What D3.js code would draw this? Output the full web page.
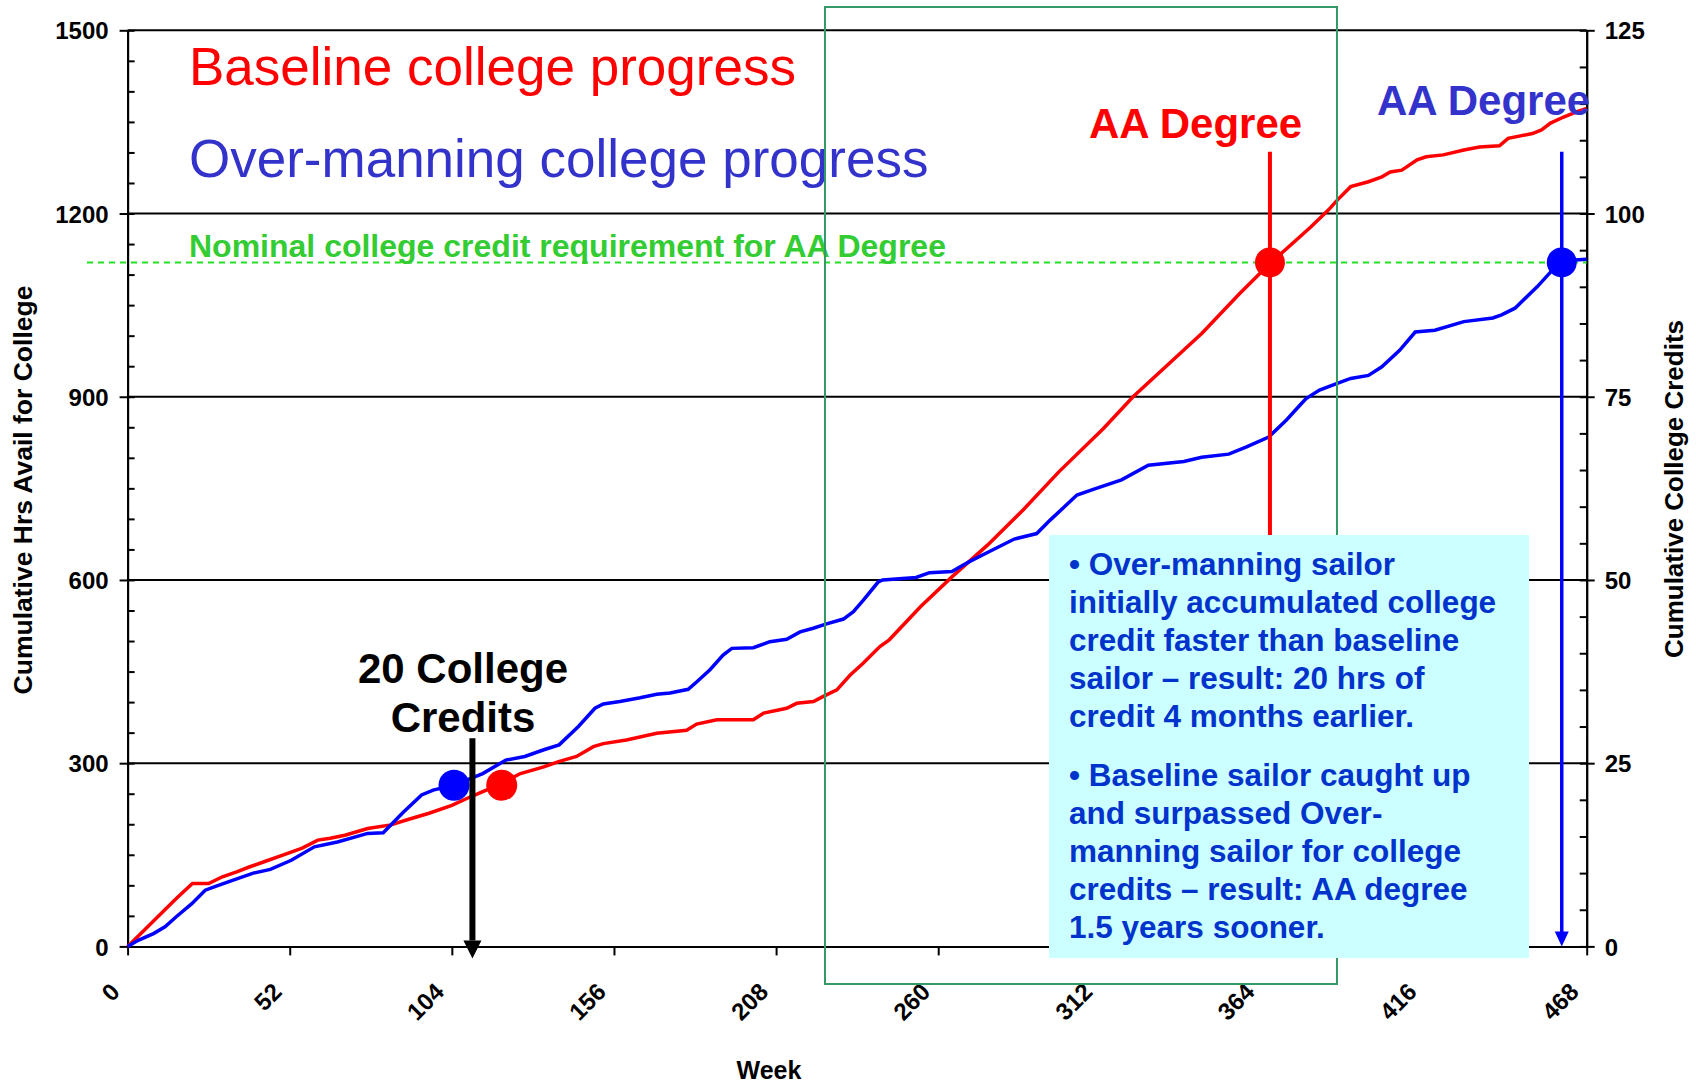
<!DOCTYPE html>
<html>
<head>
<meta charset="utf-8">
<script src="https://cdn.jsdelivr.net/npm/d3@7"></script>
<style>
  body { margin: 0; background: #fff; }
  svg { display: block; font-family: 'Liberation Sans', Arial, sans-serif; }
</style>
</head>
<body>
<div class="container"></div>
<script>
// baseline sailor (red)
const baseWeeks = [0, 5, 9.6, 15.7, 20.8, 26, 30.4, 35, 39, 44, 50, 56, 61, 65, 69.7, 77, 84.5, 89.4, 96.7, 104, 110, 116, 120, 126, 133.5, 138.5, 144, 149.4, 152.6, 160, 169.7, 179.3, 182.5, 189, 200.7, 204, 211.4, 214.6, 220, 223, 227.5, 231.7, 236, 241.3, 244.3, 254.3, 264.4, 275.8, 287.3, 298.7, 313, 322.5, 344.6, 356.7, 366.4, 379.5, 385.2, 388, 392.3, 398, 402.3, 405, 408.7, 413.6, 416.5, 422, 428.6, 433.6, 440, 442.8, 450.6, 453.5, 456.4, 460.6, 464.9, 468]
const baseHrs = [0, 25, 48, 79, 103, 103, 114, 122, 130, 139, 150, 161, 174, 177, 182, 193, 199, 207, 218, 231, 245, 258, 267, 283, 294, 303, 311, 327, 332, 338, 349, 354, 364, 371, 371, 382, 390, 398, 401, 409, 420, 444, 464, 491, 502, 556, 605, 657, 715, 777, 848, 900, 1004, 1069, 1118, 1178, 1206, 1222, 1244, 1252, 1260, 1268, 1271, 1288, 1293, 1296, 1304, 1309, 1311, 1323, 1331, 1337, 1348, 1358, 1367, 1372]

// over-manning sailor (blue)
const overWeeks = [0, 3.4, 8.3, 12, 15.7, 20.6, 24.9, 28, 34.1, 40.3, 45.8, 52.5, 59.9, 67.3, 77, 82, 88.1, 94.3, 98, 104.7, 113.9, 121.3, 127.4, 133.5, 138.4, 144.6, 149.9, 152.6, 157.9, 164.4, 169.7, 174, 179.8, 182.5, 186.8, 191, 193.8, 200.7, 206, 211.4, 215.7, 219.9, 224.2, 229.6, 232.8, 236, 240.8, 242.2, 252.9, 257.2, 264.4, 270, 275.8, 284.4, 291.6, 295.9, 304.5, 310.2, 318.8, 327.4, 338.8, 344.5, 353.2, 358.9, 366, 371.7, 376, 378, 382.3, 388, 392.3, 398, 402.3, 408, 413, 419.3, 428.6, 437.9, 440.7, 445, 452.1, 458.9, 464.2, 468]
const overHrs = [0, 10, 21, 32, 49, 70, 92, 98, 109, 120, 126, 141, 163, 171, 185, 186, 218, 248, 256, 264, 283, 305, 311, 322, 330, 360, 390, 397, 401, 407, 413, 415, 421, 433, 453, 477, 488, 489, 499, 503, 515, 521, 528, 536, 548, 567, 597, 600, 604, 612, 614, 630, 645, 667, 676, 698, 739, 749, 764, 788, 794, 801, 806, 818, 834, 862, 886, 897, 911, 922, 930, 935, 949, 976, 1006, 1009, 1023, 1029, 1034, 1045, 1080, 1118, 1124, 1125]

const weekTicks = [0, 52, 104, 156, 208, 260, 312, 364, 416, 468]
const hrsTicks = [0, 300, 600, 900, 1200, 1500]
const creditTicks = [0, 25, 50, 75, 100, 125]

const aaRequirement = 1120
const twentyCreditHrs = 264
const twentyCreditWeeks = { over: 104.7, base: 120 }
const aaWeeks = { base: 366.4, over: 460 }
const creditsArrowWeek = 110.6
const markerTopHrs = 1301

const note1 = ['• Over-manning sailor', 'initially accumulated college', 'credit faster than baseline', 'sailor – result: 20 hrs of', 'credit 4 months earlier.']
const note2 = ['• Baseline sailor caught up', 'and surpassed Over-', 'manning sailor for college', 'credits – result: AA degree', '1.5 years sooner.']

const w = 1696
const h = 1084
const padL = 127.6, padR = 1586.7, padT = 30.3, padB = 946.4

const svg = d3.select('.container')
  .append('svg')
  .attr('width', w)
  .attr('height', h)

const x = d3.scaleLinear().domain([0, 468]).range([padL, padR])
const y = d3.scaleLinear().domain([0, 1500]).range([padB, padT])
const yR = d3.scaleLinear().domain([0, 125]).range([padB, padT])

// gridlines
svg.append('g').selectAll('line')
  .data(hrsTicks.slice(1))
  .enter().append('line')
  .attr('x1', padL).attr('x2', padR)
  .attr('y1', d => y(d)).attr('y2', d => y(d))
  .attr('stroke', '#000').attr('stroke-width', 2)

const styleAxis = g => {
  g.selectAll('path').attr('stroke', '#000').attr('stroke-width', 2)
  g.selectAll('line').attr('stroke', '#000').attr('stroke-width', 2)
  g.selectAll('text').attr('font-size', 24).attr('font-weight', 'bold').attr('fill', '#000')
    .attr('font-family', "'Liberation Sans', Arial, sans-serif")
}

// left axis
svg.append('g')
  .attr('transform', `translate(${padL},0)`)
  .call(d3.axisRight(y).tickValues(d3.range(0, 1501, 50)).tickSize(7).tickSizeOuter(0).tickFormat(''))
  .call(styleAxis)
svg.append('g')
  .attr('transform', `translate(${padL},0)`)
  .call(d3.axisLeft(y).tickValues(hrsTicks).tickSize(8).tickSizeOuter(0).tickPadding(11).tickFormat(d3.format('d')))
  .call(styleAxis)
  .selectAll('text').attr('dy', '0.36em')

// right axis
svg.append('g')
  .attr('transform', `translate(${padR},0)`)
  .call(d3.axisLeft(yR).tickValues(d3.range(0, 126, 5)).tickSize(7).tickSizeOuter(0).tickFormat(''))
  .call(styleAxis)
svg.append('g')
  .attr('transform', `translate(${padR},0)`)
  .call(d3.axisRight(yR).tickValues(creditTicks).tickSize(8).tickSizeOuter(0).tickPadding(10).tickFormat(d3.format('d')))
  .call(styleAxis)
  .selectAll('text').attr('dy', '0.36em')

// x axis
const xg = svg.append('g')
  .attr('transform', `translate(0,${padB})`)
  .call(d3.axisBottom(x).tickValues(weekTicks).tickSize(9).tickSizeOuter(0))
  .call(styleAxis)
xg.selectAll('text')
  .attr('x', 0).attr('y', 0).attr('dy', 0)
  .attr('text-anchor', 'end')
  .attr('transform', 'translate(-7,47) rotate(-45)')

// axis titles
svg.append('text')
  .text('Cumulative Hrs Avail for College')
  .attr('transform', 'translate(32,490) rotate(-90)')
  .attr('text-anchor', 'middle')
  .attr('font-size', 26.5).attr('font-weight', 'bold')
svg.append('text')
  .text('Cumulative College Credits')
  .attr('transform', 'translate(1683,489) rotate(-90)')
  .attr('text-anchor', 'middle')
  .attr('font-size', 26).attr('font-weight', 'bold')
svg.append('text')
  .text('Week')
  .attr('x', 769).attr('y', 1079)
  .attr('text-anchor', 'middle')
  .attr('font-size', 25).attr('font-weight', 'bold')

// requirement line
svg.append('line')
  .attr('x1', 87).attr('x2', padR)
  .attr('y1', y(aaRequirement)).attr('y2', y(aaRequirement))
  .attr('stroke', '#22e022').attr('stroke-width', 2)
  .attr('stroke-dasharray', '6,5')

// series
const line = d3.line().x(d => x(d[0])).y(d => y(d[1]))
svg.append('path')
  .datum(d3.zip(baseWeeks, baseHrs))
  .attr('d', line)
  .attr('fill', 'none').attr('stroke', '#ff0000').attr('stroke-width', 3.5)
svg.append('path')
  .datum(d3.zip(overWeeks, overHrs))
  .attr('d', line)
  .attr('fill', 'none').attr('stroke', '#0000ff').attr('stroke-width', 3.5)

// AA degree markers
svg.append('line')
  .attr('x1', x(aaWeeks.base)).attr('x2', x(aaWeeks.base))
  .attr('y1', y(markerTopHrs)).attr('y2', y(0))
  .attr('stroke', '#ff0000').attr('stroke-width', 4)
svg.append('line')
  .attr('x1', x(aaWeeks.over)).attr('x2', x(aaWeeks.over))
  .attr('y1', y(markerTopHrs)).attr('y2', y(0) - 14)
  .attr('stroke', '#0000ff').attr('stroke-width', 3.5)
svg.append('path')
  .attr('d', `M${x(aaWeeks.over) - 7},${y(0) - 15} L${x(aaWeeks.over) + 7},${y(0) - 15} L${x(aaWeeks.over)},${y(0)} Z`)
  .attr('fill', '#0000ff')

svg.append('circle').attr('cx', x(aaWeeks.base)).attr('cy', y(aaRequirement)).attr('r', 15).attr('fill', '#ff0000')
svg.append('circle').attr('cx', x(aaWeeks.over)).attr('cy', y(aaRequirement)).attr('r', 15).attr('fill', '#0000ff')
svg.append('circle').attr('cx', x(twentyCreditWeeks.over)).attr('cy', y(twentyCreditHrs)).attr('r', 15.5).attr('fill', '#0000ff')
svg.append('circle').attr('cx', x(twentyCreditWeeks.base)).attr('cy', y(twentyCreditHrs)).attr('r', 15.5).attr('fill', '#ff0000')

// 20 credits arrow
svg.append('line')
  .attr('x1', x(creditsArrowWeek)).attr('x2', x(creditsArrowWeek))
  .attr('y1', y(341)).attr('y2', y(0) - 6)
  .attr('stroke', '#000').attr('stroke-width', 6)
svg.append('path')
  .attr('d', `M${x(creditsArrowWeek) - 9},${y(0) - 6} L${x(creditsArrowWeek) + 9},${y(0) - 6} L${x(creditsArrowWeek)},${y(0) + 12} Z`)
  .attr('fill', '#000')

// labels
svg.append('text').text('Baseline college progress')
  .attr('x', 189).attr('y', 85).attr('font-size', 53).attr('fill', '#ff0000')
svg.append('text').text('Over-manning college progress')
  .attr('x', 189).attr('y', 177).attr('font-size', 53).attr('fill', '#3333cc')
svg.append('text').text('Nominal college credit requirement for AA Degree')
  .attr('x', 189).attr('y', 257).attr('font-size', 32).attr('font-weight', 'bold').attr('fill', '#33cc33')
svg.append('text').text('AA Degree')
  .attr('x', 1089).attr('y', 138).attr('font-size', 42).attr('font-weight', 'bold').attr('fill', '#ff0000')
svg.append('text').text('AA Degree')
  .attr('x', 1377).attr('y', 115).attr('font-size', 42).attr('font-weight', 'bold').attr('fill', '#3333cc')
svg.append('text').text('20 College')
  .attr('x', 463).attr('y', 683).attr('text-anchor', 'middle')
  .attr('font-size', 42).attr('font-weight', 'bold')
svg.append('text').text('Credits')
  .attr('x', 463).attr('y', 732).attr('text-anchor', 'middle')
  .attr('font-size', 42).attr('font-weight', 'bold')

// highlight frame
svg.append('rect')
  .attr('x', 825).attr('y', 7).attr('width', 512).attr('height', 977)
  .attr('fill', 'none').attr('stroke', '#339966').attr('stroke-width', 2)

// note box
svg.append('rect')
  .attr('x', 1049).attr('y', 535).attr('width', 480).attr('height', 423)
  .attr('fill', '#ccffff')

const note = svg.append('g')
  .attr('font-size', 31.5).attr('font-weight', 'bold').attr('fill', '#0033cc')
note.selectAll('.n1').data(note1).enter().append('text')
  .attr('x', 1069).attr('y', (d, i) => 575 + i * 38).text(d => d)
note.selectAll('.n2').data(note2).enter().append('text')
  .attr('x', 1069).attr('y', (d, i) => 786 + i * 38).text(d => d)
</script>
</body>
</html>
